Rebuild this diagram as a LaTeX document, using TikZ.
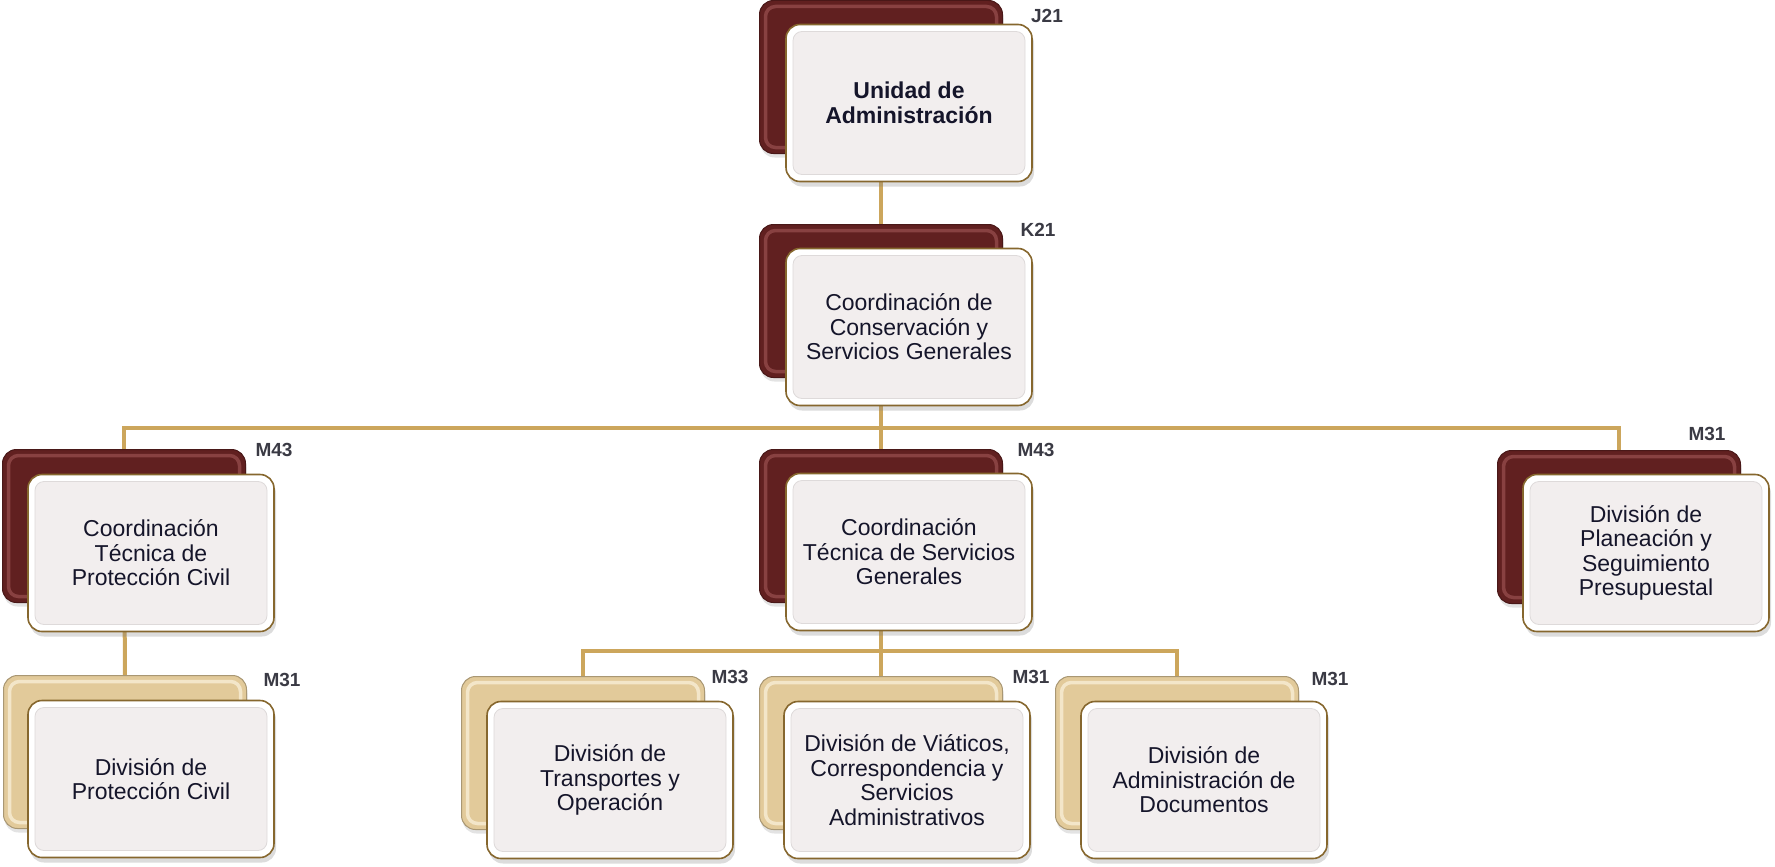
\documentclass[tikz,border=0pt]{standalone}
\usepackage{fontspec}
\setmainfont{Liberation Sans}
\usetikzlibrary{shadows,calc}
\definecolor{boxred}{HTML}{612020}
\definecolor{boxredlight}{HTML}{B86A6A}
\definecolor{boxtan}{HTML}{E2CA9A}
\definecolor{boxtanlight}{HTML}{FAF0DA}
\definecolor{frontfill}{HTML}{F2EEEE}
\definecolor{frontline}{HTML}{DEDADA}
\definecolor{frontedge}{HTML}{86672E}
\definecolor{linkcol}{HTML}{CCA65C}
\definecolor{codecol}{HTML}{3A3A44}
\definecolor{txtcol}{HTML}{15152A}
\pgfdeclarelayer{bg}
\pgfsetlayers{bg,main}
\tikzset{
  backbase/.style={rectangle, rounded corners=14pt, minimum width=243pt,
    minimum height=153pt, inner sep=0pt,
    drop shadow={shadow xshift=1pt, shadow yshift=-4pt, opacity=.22}},
  backred/.style={backbase, fill=boxred, draw=boxred!75!black, line width=1pt,
    path picture={\draw[boxredlight, opacity=.45, line width=3.5pt, rounded corners=10pt]
      ($(path picture bounding box.south west)+(6pt,6pt)$) rectangle
      ($(path picture bounding box.north east)+(-6pt,-6pt)$);}},
  backtan/.style={backbase, fill=boxtan, draw=boxtan!75!black, line width=1pt,
    path picture={\draw[boxtanlight, opacity=.75, line width=3.5pt, rounded corners=10pt]
      ($(path picture bounding box.south west)+(6pt,6pt)$) rectangle
      ($(path picture bounding box.north east)+(-6pt,-6pt)$);}},
  front/.style={rectangle, rounded corners=14pt, minimum width=246pt,
    minimum height=157pt, inner sep=0pt, fill=white, draw=frontedge,
    line width=1.6pt, align=center, text=txtcol,
    font=\fontsize{23}{24.5}\selectfont,
    drop shadow={shadow xshift=2pt, shadow yshift=-5pt, opacity=.28},
    path picture={\filldraw[fill=frontfill, draw=frontline, line width=0.8pt, rounded corners=9pt]
      ($(path picture bounding box.south west)+(7pt,7pt)$) rectangle
      ($(path picture bounding box.north east)+(-7pt,-7pt)$);}},
  code/.style={font=\fontsize{19}{19}\selectfont\bfseries, text=codecol, inner sep=0pt},
  link/.style={draw=linkcol, line width=4pt}
}
\begin{document}
\begin{tikzpicture}[x=1pt, y=-1pt]
\useasboundingbox (0,0) rectangle (1775,867);
% level 1
\node[backred] (a0) at (881,77) {};
\node[front, font=\fontsize{23}{24.5}\selectfont\bfseries] (a) at (909,103) {Unidad de\\Administración};
\node[code] (la) at (1047,16) {J21};
% level 2
\node[backred] (b0) at (881,301) {};
\node[front] (b) at (909,327) {Coordinación de\\Conservación y\\Servicios Generales};
\node[code] (lb) at (1038,230) {K21};
% level 3
\node[backred] (c0) at (124,526) {};
\node[front] (c) at (151,553) {Coordinación\\Técnica de\\Protección Civil};
\node[code] (lc) at (274,450) {M43};
\node[backred] (d0) at (881,526) {};
\node[front] (d) at (909,552) {Coordinación\\Técnica de Servicios\\Generales};
\node[code] (ld) at (1036,450) {M43};
\node[backred] (e0) at (1619,527) {};
\node[front] (e) at (1646,553) {División de\\Planeación y\\Seguimiento\\Presupuestal};
\node[code] (le) at (1707,434) {M31};
% level 4
\node[backtan] (f0) at (125,752) {};
\node[front] (f) at (151,779) {División de\\Protección Civil};
\node[code] (lf) at (282,680) {M31};
\node[backtan] (g0) at (583,753) {};
\node[front] (g) at (610,780) {División de\\Transportes y\\Operación};
\node[code] (lg) at (730,677) {M33};
\node[backtan] (h0) at (881,753) {};
\node[front] (h) at (907,780) {División de Viáticos,\\Correspondencia y\\Servicios\\Administrativos};
\node[code] (lh) at (1031,677) {M31};
\node[backtan] (i0) at (1177,753) {};
\node[front] (i) at (1204,780) {División de\\Administración de\\Documentos};
\node[code] (li) at (1330,679) {M31};
% connectors
\coordinate (bus1) at (0,428);
\coordinate (bus2) at (0,651);
\begin{pgfonlayer}{bg}
\draw[link] (a0.center) -- (b0.center);
\draw[link] (b0.center) -- (d0.center);
\draw[link] (b0.center |- bus1) -| (c0.north);
\draw[link] (b0.center |- bus1) -| (e0.north);
\draw[link] (c0.center) -- (f0.north);
\draw[link] (d0.center) -- (h0.center);
\draw[link] (d0.center |- bus2) -| (g0.north);
\draw[link] (d0.center |- bus2) -| (i0.north);
\end{pgfonlayer}
\end{tikzpicture}
\end{document}
